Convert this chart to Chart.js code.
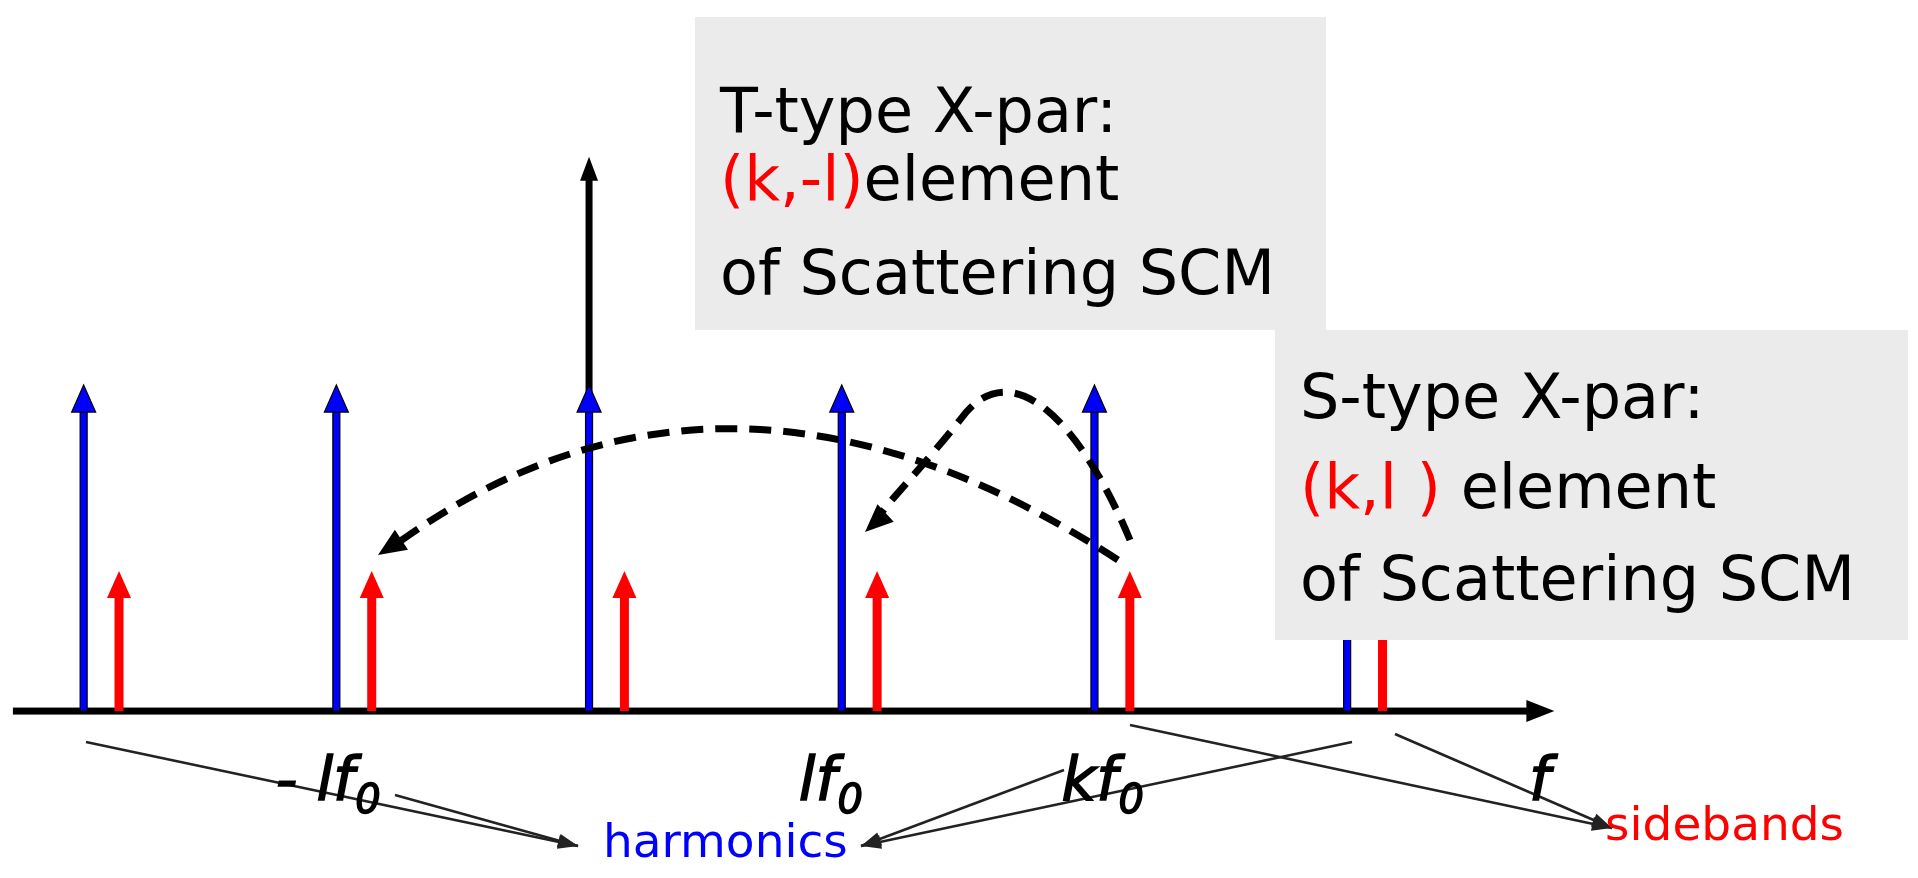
<!DOCTYPE html>
<html><head><meta charset="utf-8">
<script src="https://cdn.jsdelivr.net/npm/chart.js@4"></script>
<style>html,body{margin:0;padding:0;background:#fff}#wrap{width:1918px;height:878px}</style>
</head><body><div id="wrap"><canvas id="c"></canvas></div>
<script>
const harmonics = [-2, -1, 0, 1, 2, 3];
const harmonicHeight = [1, 1, 1, 1, 1, 1];
const sidebandOffset = 0.14;
const sidebands = harmonics.map(h => h + sidebandOffset);
const sidebandHeight = [0.43, 0.43, 0.43, 0.43, 0.43, 0.43];
const yAxisTop = 1.70;
const xAxisEnd = 3.82;
const freqLabels = [
  {x: -1.24, main: '- lf', sub: '0'},
  {x: 0.83, main: 'lf', sub: '0'},
  {x: 1.87, main: 'kf', sub: '0'},
  {x: 3.72, main: 'f', sub: ''}
];

const F = '"DejaVu Sans", Verdana, sans-serif';
function arrowHead(ctx, x, y, ang, len, w, col){
  ctx.save(); ctx.translate(x,y); ctx.rotate(ang);
  ctx.beginPath(); ctx.moveTo(0,0); ctx.lineTo(-len,-w/2); ctx.lineTo(-len,w/2); ctx.closePath();
  ctx.fillStyle=col; ctx.fill(); ctx.restore();
}
function vArrow(ctx,x,y0,y1,col,lw,outline){
  const hl=27, hw=24;
  ctx.save();
  ctx.fillStyle=col;
  ctx.fillRect(x-lw/2,y1+hl-2,lw,y0-(y1+hl-2));
  if(outline){ctx.strokeStyle='#000';ctx.lineWidth=1.2;ctx.strokeRect(x-lw/2,y1+hl-2,lw,y0-(y1+hl-2));}
  ctx.beginPath();ctx.moveTo(x,y1);ctx.lineTo(x-hw/2,y1+hl);ctx.lineTo(x+hw/2,y1+hl);ctx.closePath();
  ctx.fill(); if(outline){ctx.stroke();}
  ctx.restore();
}
function thinArrow(ctx,x0,y0,x1,y1){
  ctx.save();ctx.strokeStyle='#222';ctx.lineWidth=2.5;
  ctx.beginPath();ctx.moveTo(x0,y0);ctx.lineTo(x1,y1);ctx.stroke();
  arrowHead(ctx,x1,y1,Math.atan2(y1-y0,x1-x0),20,14,'#222');ctx.restore();
}
const draw = {
  id:'diagram',
  afterDatasetsDraw(chart){
    const ctx=chart.ctx, xs=chart.scales.x, ys=chart.scales.y;
    const X=v=>xs.getPixelForValue(v), Y=v=>ys.getPixelForValue(v);
    const y0=Y(0);
    ctx.save();
    ctx.fillStyle='#000';
    ctx.fillRect(X(-2.28),y0-3.5,X(xAxisEnd)-X(-2.28)-26,7);
    arrowHead(ctx,X(xAxisEnd),y0,0,28,22,'#000');
    ctx.fillRect(X(0)-3.5,Y(yAxisTop)+20,7,y0-Y(yAxisTop)-20);
    arrowHead(ctx,X(0),Y(yAxisTop),-Math.PI/2,24,18,'#000');
    harmonics.forEach((h,i)=>vArrow(ctx,X(h),y0,Y(harmonicHeight[i]),'#0000ff',7,true));
    sidebands.forEach((s,i)=>vArrow(ctx,X(s),y0,Y(sidebandHeight[i]),'#ff0000',9,false));
    ctx.strokeStyle='#000';ctx.lineWidth=7;ctx.setLineDash([22,12]);
    ctx.beginPath();ctx.moveTo(1118,560);ctx.quadraticCurveTo(725,305,395,545);ctx.stroke();
    ctx.beginPath();ctx.moveTo(1130,540);ctx.bezierCurveTo(1080,420,1010,350,960,420);ctx.bezierCurveTo(920,470,890,500,880,515);ctx.stroke();
    ctx.setLineDash([]);
    arrowHead(ctx,378,555,Math.atan2(545-305,395-725)+0.05,28,24,'#000');
    arrowHead(ctx,865,532,Math.atan2(515-470,880-920)+0.1,28,24,'#000');
    thinArrow(ctx,86,742,578,846);
    thinArrow(ctx,395,795,578,846);
    thinArrow(ctx,1352,742,861,846);
    thinArrow(ctx,1064,770,861,846);
    thinArrow(ctx,1395,734,1612,828);
    thinArrow(ctx,1130,725,1612,828);
    freqLabels.forEach(l=>{
      ctx.fillStyle='#000';ctx.font='italic 60px '+F;ctx.textBaseline='alphabetic';
      const px=X(l.x), w=ctx.measureText(l.main).width;
      ctx.lineWidth=1.5;ctx.strokeStyle='#000';
      ctx.fillText(l.main,px,800);ctx.strokeText(l.main,px,800);
      if(l.sub){ctx.font='italic 40px '+F;ctx.fillText(l.sub,px+w+1,813);ctx.strokeText(l.sub,px+w+1,813);}
    });
    ctx.font='47px '+F;ctx.fillStyle='#0000ff';ctx.fillText('harmonics',603,857);
    ctx.fillStyle='#ff0000';ctx.fillText('sidebands',1605,840);
    ctx.fillStyle='#ebebeb';ctx.fillRect(695,17,631,313);ctx.fillRect(1275,330,633,310);
    ctx.font='62px '+F;
    function seg(parts,x,y){parts.forEach(p=>{ctx.fillStyle=p[1];ctx.fillText(p[0],x,y);x+=ctx.measureText(p[0]).width;});}
    seg([['T-type X-par:','#000']],720,132);
    seg([['(k,-l)','#ff0000'],['element','#000']],720,200);
    seg([['of Scattering SCM','#000']],720,294);
    seg([['S-type X-par:','#000']],1300,418);
    seg([['(k,l )','#ff0000'],[' element','#000']],1300,508);
    seg([['of Scattering SCM','#000']],1300,600);
    ctx.restore();
  }
};
new Chart(document.getElementById('c'),{
  type:'scatter',
  data:{datasets:[
    {label:'harmonics',data:harmonics.map((h,i)=>({x:h,y:harmonicHeight[i]})),pointRadius:0},
    {label:'sidebands',data:sidebands.map((s,i)=>({x:s,y:sidebandHeight[i]})),pointRadius:0}
  ]},
  options:{responsive:true,maintainAspectRatio:false,animation:false,
    layout:{padding:0},
    plugins:{legend:{display:false},tooltip:{enabled:false}},
    scales:{x:{type:'linear',min:-2.331,max:5.259,display:false},
            y:{type:'linear',min:-0.512,max:2.181,display:false}}},
  plugins:[draw]
});
</script></body></html>
